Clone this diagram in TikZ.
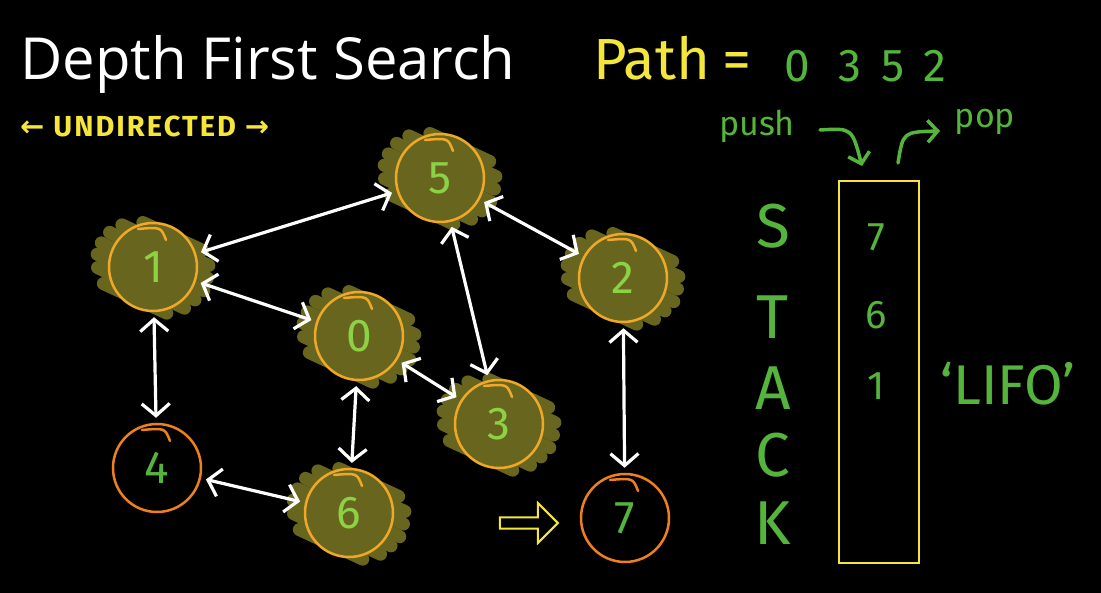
\documentclass[tikz,border=0pt]{standalone}
\usepackage{fontspec}
\setmainfont{Open Sans}
\newfontfamily\hand{Fira Sans}
\newfontfamily\handsp[LetterSpace=7]{Fira Sans}
\newfontfamily\sym{DejaVu Sans}
\usetikzlibrary{arrows.meta,shapes.arrows}
\definecolor{blobc}{RGB}{104,102,30}
\definecolor{ringc}{RGB}{240,168,40}
\definecolor{ringo}{RGB}{238,128,30}
\definecolor{digc}{RGB}{140,210,70}
\definecolor{greenc}{RGB}{84,180,60}
\definecolor{yellc}{RGB}{245,230,60}
\tikzset{
 vnode/.style={circle,draw=ringc,line width=2.5pt,minimum size=88pt,inner sep=0pt,text=digc,font=\hand\fontsize{46}{46}\selectfont},
 unode/.style={vnode,draw=ringo,text=greenc},
 edge/.style={draw=white,line width=3.2pt,{Straight Barb[length=12pt,width=28pt]}-{Straight Barb[length=12pt,width=28pt]},shorten <=5pt,shorten >=5pt},
 hookline/.style={line width=2.5pt,line cap=round},
 stk/.style={text=greenc,font=\hand\fontsize{62}{62}\selectfont},
 stkval/.style={text=greenc,font=\hand\fontsize{40}{40}\selectfont},
 garrow/.style={draw=greenc,line width=3.5pt,line cap=round,-{Straight Barb[length=10pt,width=22pt]}},
 scrib/.style={draw=blobc,line width=13pt,line cap=round},
}
\begin{document}
\begin{tikzpicture}[x=1pt,y=-1pt]
\fill[black] (0,0) rectangle (1101,593);
\useasboundingbox (0,0) rectangle (1101,593);
% title
\node[anchor=base west,text=white,font=\fontsize{58}{58}\selectfont,inner sep=0pt] (title) at (20,80) {Depth First Search};
\node[anchor=west,text=yellc,font=\handsp\bfseries\fontsize{29}{29}\selectfont,inner sep=0pt] (undir) at (20,126) {{\sym ←} UNDIRECTED {\sym →}};
% path
\node[anchor=base west,text=yellc,font=\hand\fontsize{58}{58}\selectfont,inner sep=0pt] (path) at (593,80) {Path};
\node[anchor=base west,text=yellc,font=\hand\fontsize{58}{58}\selectfont,inner sep=0pt] (eq) at (722,80) {=};
\node[anchor=base,text=greenc,font=\hand\fontsize{46}{46}\selectfont,inner sep=0pt] (p0) at (797,82) {0};
\node[anchor=base,text=greenc,font=\hand\fontsize{46}{46}\selectfont,inner sep=0pt] (p3) at (850,82) {3};
\node[anchor=base,text=greenc,font=\hand\fontsize{46}{46}\selectfont,inner sep=0pt] (p5) at (893,82) {5};
\node[anchor=base,text=greenc,font=\hand\fontsize{46}{46}\selectfont,inner sep=0pt] (p2) at (935,82) {2};
% visited nodes with scribble
\foreach \n/\x/\y in {5/440/178,1/153/267,0/359/336,2/623/278,3/499/424,6/349/513}{
  \begin{scope}[shift={(\x,\y)},rotate=-25]
    \fill[blobc] (0,0) circle (44);
    \foreach \k/\a/\b in {-36/-28/38,-25/-46/50,-13/-54/54,0/-57/56,12/-56/52,24/-50/46,36/-38/32}
      \draw[scrib] (\a,\k) -- (\b,\k);
  \end{scope}
  \node[vnode] (n\n) at (\x,\y) {\n};
  \draw[hookline,ringc] ([shift={(-15,-38)}]n\n.center) .. controls ([shift={(8,-40)}]n\n.center) .. ([shift={(13,-27)}]n\n.center);
}
\foreach \n/\x/\y in {4/157/468,7/625/518}{
  \node[unode] (n\n) at (\x,\y) {\n};
  \draw[hookline,ringo] ([shift={(-15,-38)}]n\n.center) .. controls ([shift={(8,-40)}]n\n.center) .. ([shift={(13,-27)}]n\n.center);
}
% edges
\draw[edge] (n1) -- (n5);
\draw[edge] (n1) -- (n0);
\draw[edge] (n5) -- (n2);
\draw[edge] (n5) -- (n3);
\draw[edge] (n0) -- (n3);
\draw[edge] (n1) -- (n4);
\draw[edge] (n0) -- (n6);
\draw[edge] (n4) -- (n6);
\draw[edge] (n2) -- (n7);
% hollow arrow
\node[single arrow,draw=yellc,fill=black,line width=2pt,minimum height=58pt,minimum width=40pt,single arrow head extend=10pt,inner sep=3pt] (harrow) at (526,523) {};
% stack
\node[draw=yellc,line width=2.5pt,minimum width=80pt,minimum height=382pt,inner sep=0pt] (stackbox) at (879,372) {};
\node[stk] (sS) at (773,226) {S};
\node[stk] (sT) at (773,317) {T};
\node[stk] (sA) at (773,388) {A};
\node[stk] (sC) at (773,455) {C};
\node[stk] (sK) at (773,523) {K};
\node[stkval] (v7) at (876,237) {7};
\node[stkval] (v6) at (876,315) {6};
\node[stkval] (v1) at (876,386) {1};
\node[text=greenc,font=\hand\fontsize{56}{56}\selectfont] (lifo) at (1008,384) {‘LIFO’};
\node[text=greenc,font=\hand\fontsize{34}{34}\selectfont] (push) at (757,126) {push};
\node[text=greenc,font=\hand\fontsize{34}{34}\selectfont] (pop) at (985,122) {pop};
\coordinate (pushs) at (820,130);
\coordinate (pushe) at (862,166);
\coordinate (pops) at (898,163);
\coordinate (pope) at (940,131);
\draw[garrow] (pushs) .. controls (852,128) .. (pushe);
\draw[garrow] (pops) .. controls (903,132) .. (pope);
\end{tikzpicture}
\end{document}
